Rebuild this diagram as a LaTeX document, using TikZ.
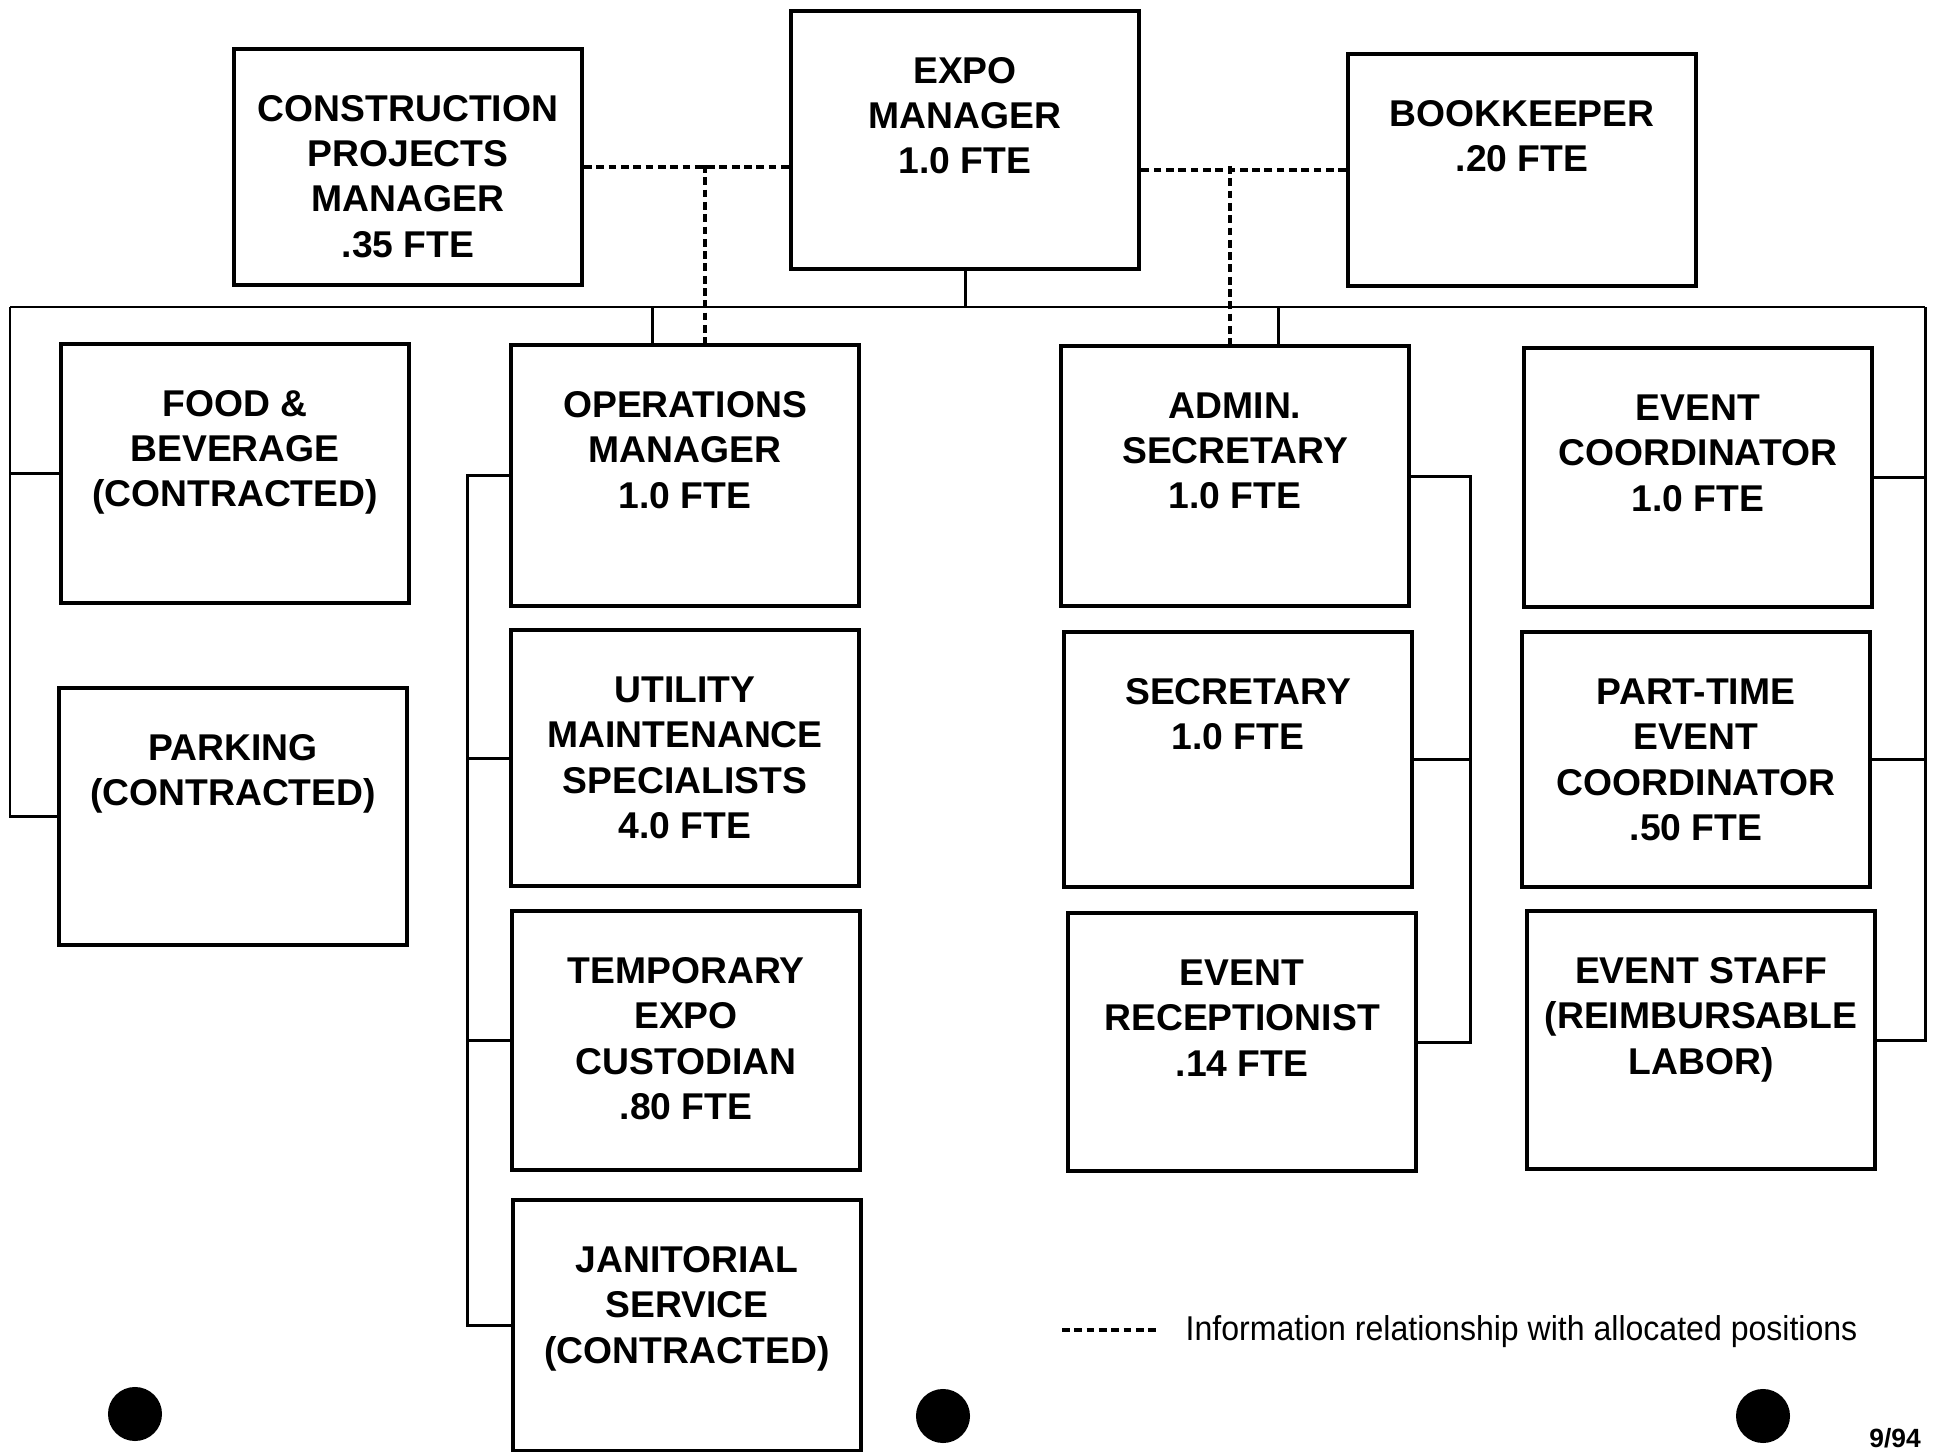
\documentclass[tikz,border=0pt]{standalone}
\usepackage{fontspec}
\setmainfont{Liberation Sans}
\newfontfamily\narrowfont[FakeStretch=0.93]{Liberation Sans}

\tikzset{
  orgpost/.style={draw, line width=1.1pt, inner sep=0pt, anchor=north west,
    font=\fontsize{10.6}{12.8}\selectfont\bfseries},
  orgline/.style={line width=0.85pt},
  infoline/.style={line width=1.3pt, dash pattern=on 2.2pt off 1.3pt},
}
\def\postw{3.48cm}
\def\firstbase{0.73cm} % baseline of first line below box top
\newcommand{\orgbox}[4]{%
  \node[orgpost] (#1) at (#2) {\parbox[c][#3][t]{\postw}{\centering\rule{0pt}{\firstbase}#4}};}

\begin{document}
\begin{tikzpicture}[x=0.01cm, y=-0.01cm]
\useasboundingbox (0,0) rectangle (1936,1452);

% top row
\orgbox{cpm}{232,47}{2.36cm}{CONSTRUCTION\\PROJECTS\\MANAGER\\.35 FTE}
\orgbox{expo}{789,9}{2.58cm}{EXPO\\MANAGER\\1.0 FTE}
\orgbox{book}{1346,52}{2.32cm}{BOOKKEEPER\\.20 FTE}

% staff columns
\orgbox{food}{59,342}{2.59cm}{FOOD \&\\BEVERAGE\\(CONTRACTED)}
\orgbox{park}{57,686}{2.57cm}{PARKING\\(CONTRACTED)}
\orgbox{ops}{509,343}{2.61cm}{OPERATIONS\\MANAGER\\1.0 FTE}
\orgbox{util}{509,628}{2.56cm}{UTILITY\\MAINTENANCE\\SPECIALISTS\\4.0 FTE}
\orgbox{temp}{510,909}{2.59cm}{TEMPORARY\\EXPO\\CUSTODIAN\\.80 FTE}
\orgbox{jan}{511,1198}{2.51cm}{JANITORIAL\\SERVICE\\(CONTRACTED)}
\orgbox{admin}{1059,344}{2.60cm}{ADMIN.\\SECRETARY\\1.0 FTE}
\orgbox{sec}{1062,630}{2.55cm}{SECRETARY\\1.0 FTE}
\orgbox{recp}{1066,911}{2.58cm}{EVENT\\RECEPTIONIST\\.14 FTE}
\orgbox{evc}{1522,346}{2.59cm}{EVENT\\COORDINATOR\\1.0 FTE}
\orgbox{ptc}{1520,630}{2.55cm}{PART-TIME\\EVENT\\COORDINATOR\\.50 FTE}
\orgbox{staff}{1525,909}{2.58cm}{EVENT STAFF\\(REIMBURSABLE\\LABOR)}

% reporting lines
\coordinate (busL) at (10,307);
\coordinate (busR) at (1925,307);
\coordinate (opsdrop) at (652,307);
\coordinate (admdrop) at (1278,307);
\draw[orgline] (busL) -- (busR);
\draw[orgline] (expo.south) -- (expo.south |- busL);
\draw[orgline] (park.west) -| (busL);
\draw[orgline] (food.west) -- (food.west -| busL);
\draw[orgline] (staff.east) -| (busR);
\foreach \b in {evc,ptc}
{
  \draw[orgline] (\b.east) -- (\b.east -| busR);
}
\draw[orgline] (opsdrop) -- (opsdrop |- ops.north);
\draw[orgline] (admdrop) -- (admdrop |- admin.north);
\draw[orgline] (ops.west) -- ++(-42,0) coordinate (opsrail) |- (jan.west);
\foreach \b in {util,temp}
{
  \draw[orgline] (\b.west) -- (\b.west -| opsrail);
}
\draw[orgline] (admin.east) -- ++(59,0) coordinate (admrail) |- (recp.east);
\draw[orgline] (sec.east) -- (sec.east -| admrail);

% information lines
\coordinate (opsinfo) at (705,165);
\coordinate (adminfo) at (1230,166);
\draw[infoline] (cpm.east) -- (cpm.east -| expo.west);
\draw[infoline] (book.west) -- (book.west -| expo.east);
\draw[infoline] (opsinfo) -- (opsinfo |- ops.north);
\draw[infoline] (adminfo) -- (adminfo |- admin.north);

% legend
\coordinate (legA) at (1062,1330);
\coordinate (legB) at (1158,1330);
\draw[infoline] (legA) -- (legB);
\node[anchor=base west, inner sep=0pt, font=\narrowfont\fontsize{9.8}{11}\selectfont] (legtext) at (1185,1340)
  {Information relationship with allocated positions};
\node[font=\fontsize{7.5}{9}\selectfont\bfseries] (pgdate) at (1895,1438) {9/94};

\foreach \p in {(135,1414),(943,1416),(1763,1416)}
{
  \fill \p circle (0.27cm);
}
\end{tikzpicture}
\end{document}
